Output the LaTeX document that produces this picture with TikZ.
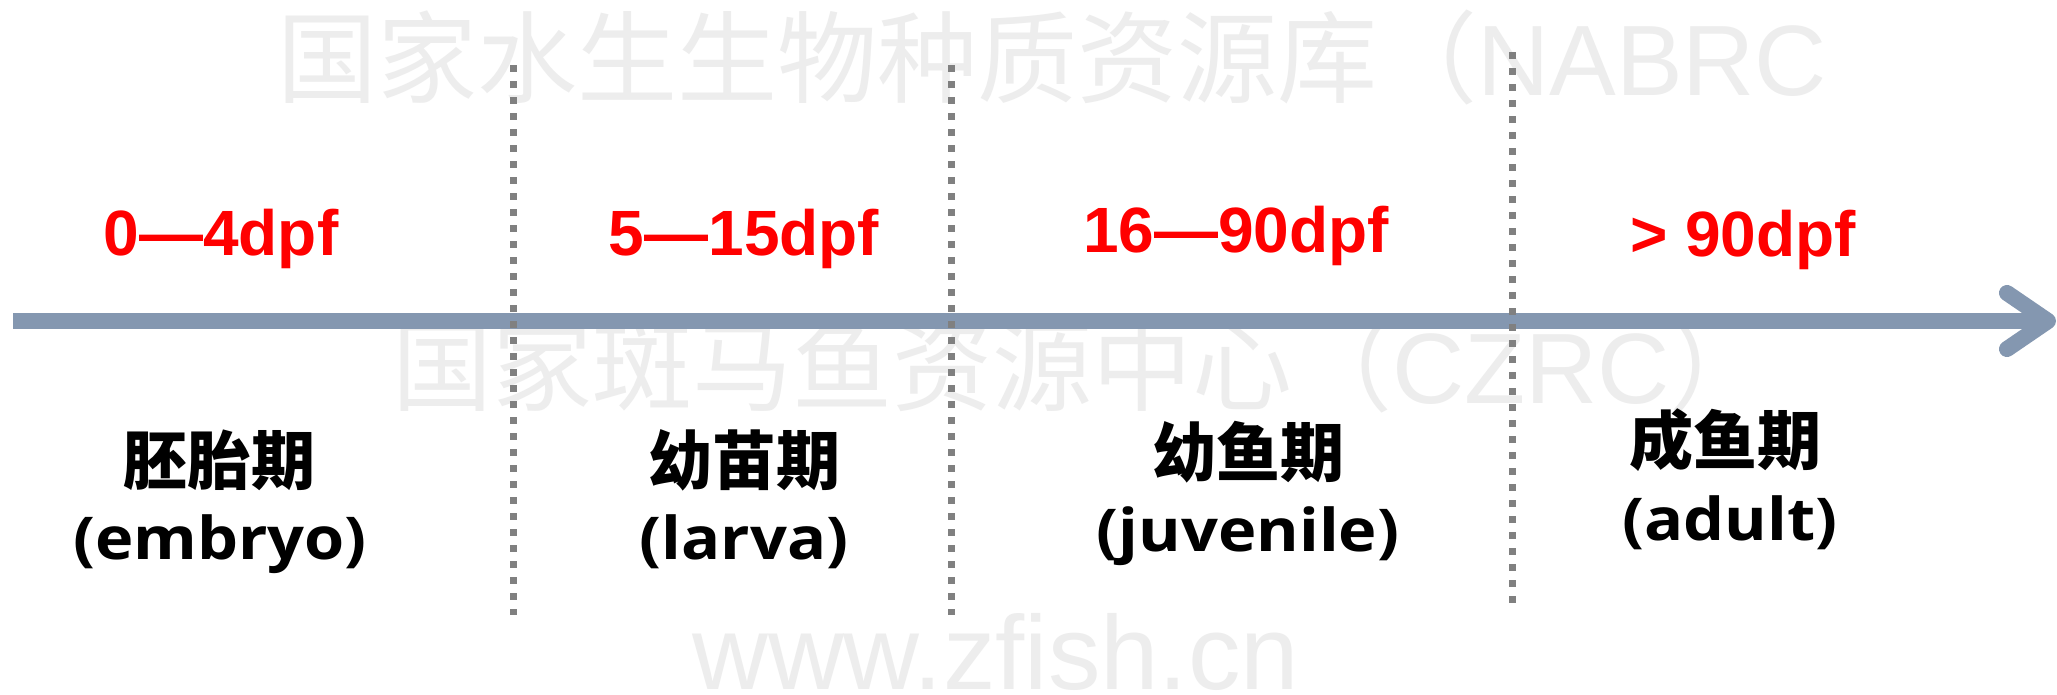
\documentclass[tikz,border=0pt]{standalone}
\usepackage{fontspec}
\setmainfont{Liberation Sans}
\newfontfamily\cjk{Noto Sans CJK SC}
\newfontfamily\wmlat{Liberation Sans}
\newfontfamily\latb{Open Sans}
\newcommand{\wide}[1]{\scalebox{1.1}[1]{#1}}
\definecolor{axisblue}{HTML}{8497B0}
\definecolor{divgray}{HTML}{808080}
\definecolor{wmgray}{HTML}{EDEDED}
\begin{document}
\begin{tikzpicture}[x=1pt,y=-1pt,
  stage/.style={font=\fontsize{64}{64}\selectfont\bfseries, text=red, anchor=base, inner sep=0pt},
  cjklab/.style={font=\cjk\fontsize{64}{64}\selectfont\bfseries, anchor=base, inner sep=0pt},
  enlab/.style={font=\latb\fontsize{59}{59}\selectfont\bfseries, anchor=base, inner sep=0pt},
  wm/.style={text=wmgray, anchor=base west, inner sep=0pt},
  divider/.style={draw=divgray, line width=7pt, dash pattern=on 7pt off 9pt},
  axis/.style={draw=axisblue, line width=16pt},
]
\fill[white] (0,0) rectangle (2057,694);
\useasboundingbox (0,0) rectangle (2057,694);

% watermarks
\node[wm, font=\fontsize{100}{100}\selectfont] (wm1) at (277,95) {{\cjk 国家水生生物种质资源库（}{\wmlat NABRC}};
\node[wm, font=\fontsize{100}{100}\selectfont] (wm2) at (392,403) {{\cjk 国家斑马鱼资源中心（}{\wmlat CZRC}{\cjk ）}};
\node[wm, font=\wmlat\fontsize{105}{105}\selectfont] (wm3) at (692,689) {www.zfish.cn};

% time axis
\coordinate (axstart) at (13,321);
\coordinate (axtip) at (2048,321);
\coordinate (barbU) at (2007,293);
\coordinate (barbL) at (2007,349);
\draw[axis] (axstart) -- (axtip);
\draw[axis, line cap=round, line join=round] (barbU) -- (axtip) -- (barbL);

% dividers
\coordinate (d1t) at (513,65);  \coordinate (d1b) at (513,615);
\coordinate (d2t) at (951,65);  \coordinate (d2b) at (951,615);
\coordinate (d3t) at (1512,52); \coordinate (d3b) at (1512,604);
\draw[divider] (d1t) -- (d1b);
\draw[divider] (d2t) -- (d2b);
\draw[divider] (d3t) -- (d3b);

% ages
\node[stage] (age1) at (221,255) {0—4dpf};
\node[stage] (age2) at (744,255) {5—15dpf};
\node[stage] (age3) at (1236,252) {16—90dpf};
\node[stage] (age4) at (1743,256) {> 90dpf};

% stages
\node[cjklab] (st1) at (219,484) {胚胎期};
\node[enlab] (en1) at (220,559) {\wide{(embryo)}};
\node[cjklab] (st2) at (744,484) {幼苗期};
\node[enlab] (en2) at (744,559) {\wide{(larva)}};
\node[cjklab] (st3) at (1248,476) {幼鱼期};
\node[enlab] (en3) at (1248,551) {\wide{(juvenile)}};
\node[cjklab] (st4) at (1725,464) {成鱼期};
\node[enlab] (en4) at (1730,540) {\wide{(adult)}};
\end{tikzpicture}
\end{document}
